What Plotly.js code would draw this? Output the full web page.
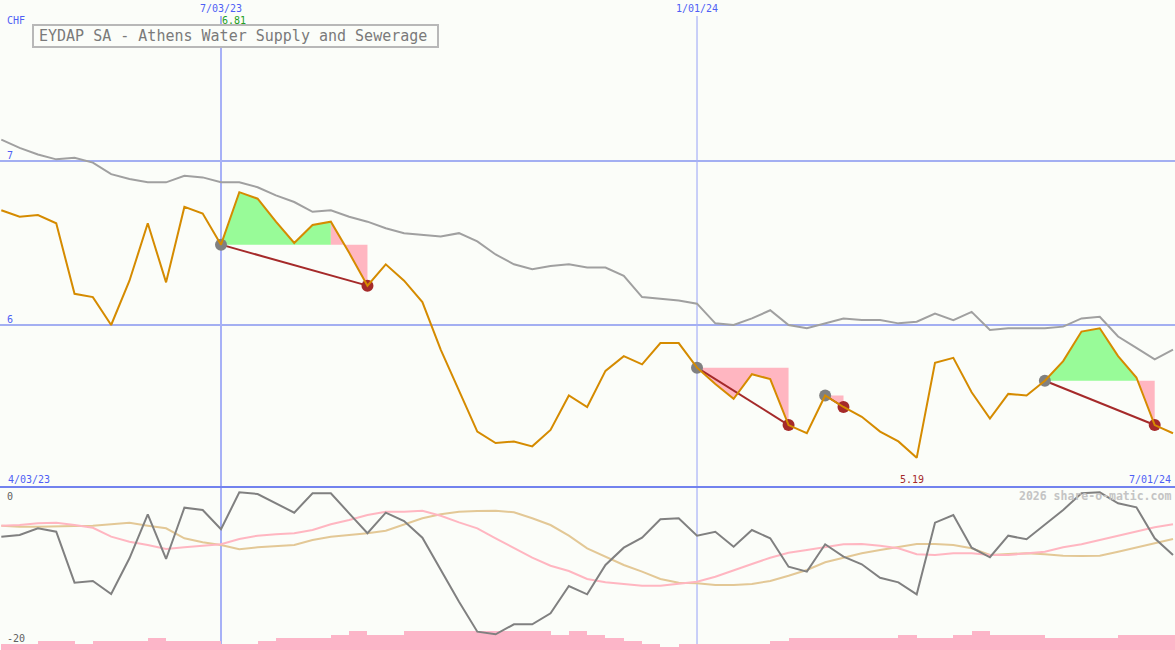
<!DOCTYPE html>
<html><head><meta charset="utf-8">
<script src="https://cdn.plot.ly/plotly-3.0.1.min.js"></script>
<style>html,body{margin:0;padding:0;background:#fbfdf9;overflow:hidden}</style>
</head><body><div id="chart" style="width:1175px;height:650px"></div>
<script>
// ---- data (weekly) ----
const dates = ['2023-04-10','2023-04-17','2023-04-24','2023-05-01','2023-05-08','2023-05-15','2023-05-22','2023-05-29','2023-06-05','2023-06-12','2023-06-19','2023-06-26',
 '2023-07-03','2023-07-10','2023-07-17','2023-07-24','2023-07-31','2023-08-07','2023-08-14','2023-08-21','2023-08-28','2023-09-04','2023-09-11','2023-09-18','2023-09-25','2023-10-02','2023-10-09','2023-10-16','2023-10-23','2023-10-30','2023-11-06','2023-11-13','2023-11-20','2023-11-27','2023-12-04','2023-12-11','2023-12-18','2023-12-25','2024-01-01',
 '2024-01-08','2024-01-15','2024-01-22','2024-01-29','2024-02-05','2024-02-12','2024-02-19','2024-02-26','2024-03-04','2024-03-11','2024-03-18','2024-03-25','2024-04-01','2024-04-08','2024-04-15','2024-04-22','2024-04-29','2024-05-06','2024-05-13','2024-05-20','2024-05-27','2024-06-03','2024-06-10','2024-06-17','2024-06-24','2024-07-01'];
const price = [6.70,6.66,6.67,6.62,6.19,6.17,6.00,6.27,6.62,6.26,6.72,6.68,
 6.49,6.81,6.77,6.63,6.50,6.61,6.63,6.44,6.24,6.37,6.27,6.14,5.85,5.60,5.35,5.28,5.29,5.26,5.36,5.57,5.50,5.72,5.81,5.76,5.89,5.89,5.74,
 5.64,5.55,5.70,5.67,5.39,5.34,5.57,5.50,5.44,5.35,5.29,5.19,5.77,5.80,5.59,5.43,5.58,5.57,5.66,5.78,5.96,5.98,5.81,5.68,5.39,5.34];
const average = [7.13,7.08,7.04,7.01,7.02,6.99,6.92,6.89,6.87,6.87,6.91,6.90,
 6.87,6.87,6.84,6.79,6.75,6.69,6.70,6.66,6.63,6.59,6.56,6.55,6.54,6.56,6.51,6.43,6.37,6.34,6.36,6.37,6.35,6.35,6.30,6.17,6.16,6.15,6.13,
 6.01,6.00,6.04,6.09,6.00,5.98,6.01,6.04,6.03,6.03,6.01,6.02,6.07,6.03,6.08,5.97,5.98,5.98,5.98,5.99,6.04,6.05,5.93,5.86,5.79,5.85];
const oscillator = [-6.25,-6.01,-5.07,-5.55,-12.73,-12.49,-14.32,-9.30,-3.10,-9.39,-2.17,-2.49,
 -5.21,0,-0.24,-1.55,-2.87,-0.14,-0.14,-2.96,-5.77,-2.87,-4.04,-6.39,-10.94,-15.41,-19.63,-20,-18.59,-18.59,-17.04,-13.20,-14.37,-10.24,-7.80,-6.39,-3.80,-3.66,-6.11,
 -5.55,-7.66,-5.31,-6.48,-10.48,-11.18,-7.32,-9.07,-10.14,-12.03,-12.68,-14.37,-4.28,-3.20,-7.80,-9.15,-6.11,-6.62,-4.61,-2.49,-0.14,0,-1.55,-2.11,-6.48,-8.83];
const oscFast = [-4.70,-4.61,-4.37,-4.28,-4.61,-4.99,-6.25,-6.96,-7.42,-7.99,-7.75,-7.52,
 -7.32,-6.58,-6.11,-5.92,-5.77,-5.31,-4.51,-3.90,-3.20,-2.73,-2.73,-2.59,-3.30,-4.23,-5.07,-6.48,-7.89,-9.21,-10.34,-11.08,-12.21,-12.68,-12.92,-13.15,-13.15,-12.92,-12.59,
 -11.89,-10.94,-10.10,-9.21,-8.51,-8.13,-7.70,-7.32,-7.28,-7.52,-7.89,-8.73,-8.83,-8.59,-8.59,-8.83,-8.83,-8.59,-8.37,-7.75,-7.32,-6.72,-6.11,-5.55,-4.93,-4.51];
const oscSlow = [-4.70,-4.85,-4.85,-4.75,-4.75,-4.70,-4.51,-4.28,-4.70,-5.07,-6.48,-7.04,
 -7.42,-8.03,-7.75,-7.56,-7.42,-6.72,-6.25,-6.01,-5.77,-5.41,-4.51,-3.66,-3.10,-2.73,-2.63,-2.59,-2.82,-3.66,-4.61,-6.11,-7.89,-9.07,-10.24,-11.18,-12.21,-12.73,-12.82,
 -13.06,-13.06,-12.92,-12.49,-11.75,-10.94,-9.86,-9.21,-8.59,-8.13,-7.66,-7.28,-7.28,-7.42,-7.89,-8.83,-8.69,-8.59,-8.73,-8.93,-8.97,-8.93,-8.37,-7.80,-7.18,-6.58];
const volume = [57,57,90,90,57,90,90,90,123,90,90,90,
 57,57,90,123,123,123,150,190,150,150,190,190,190,190,190,190,190,190,150,190,150,120,90,60,30,60,60,
 60,60,60,90,120,120,120,120,120,120,150,120,120,150,190,150,150,150,120,120,120,120,150,150,150,150];
// signals: indices into the arrays
const sigStart = [12, 38, 45, 57];
const sigTurn  = [18, 38, 45, 62];
const sigEnd   = [20, 43, 46, 63];
// labels
const xTickVals = ['2023-07-03', '2024-01-01'];
const xTickText = ['7/03/23', '1/01/24'];
const yTickVals = [7, 6];
const oscTickVals = [0, -20];
const firstDateLabel = '4/03/23';
const lastDateLabel = '7/01/24';
const chartTitle = 'EYDAP SA - Athens Water Supply and Sewerage';
const currency = 'CHF';
const watermark = '2026 share-o-matic.com';

// ---- styling ----
const W = 1175, H = 650, SPLIT = 487;
const BG = '#fbfdf9';
const MONO = 'DejaVu Sans Mono, Liberation Mono, monospace';
const BLUE = '#4f5ff5';
const px = v => v / W, py = v => 1 - v / H;
const lowTop = (H - SPLIT) / H;

const traces = [];
function band(i0, i1, base, color) {
  const xs = dates.slice(i0, i1 + 1).concat([dates[i1], dates[i0]]);
  const ys = price.slice(i0, i1 + 1).concat([base, base]);
  return {x: xs, y: ys, type: 'scatter', mode: 'none', fill: 'toself', fillcolor: color, hoverinfo: 'skip', xaxis: 'x', yaxis: 'y'};
}
for (let s = 0; s < sigStart.length; s++) {
  const base = price[sigStart[s]];
  if (sigTurn[s] > sigStart[s]) traces.push(band(sigStart[s], sigTurn[s], base, '#98fb98'));
  if (sigEnd[s] > sigTurn[s]) traces.push(band(sigTurn[s], sigEnd[s], base, '#ffb6c1'));
}
traces.push({x: dates, y: average, type: 'scatter', mode: 'lines', line: {color: '#a0a0a0', width: 2}, xaxis: 'x', yaxis: 'y'});
for (let s = 0; s < sigStart.length; s++) {
  traces.push({x: [dates[sigStart[s]], dates[sigEnd[s]]], y: [price[sigStart[s]], price[sigEnd[s]]], type: 'scatter', mode: 'lines', line: {color: '#a52a2a', width: 2}, xaxis: 'x', yaxis: 'y'});
}
traces.push({x: sigStart.map(i => dates[i]), y: sigStart.map(i => price[i]), type: 'scatter', mode: 'markers', marker: {color: '#808080', size: 12}, xaxis: 'x', yaxis: 'y'});
traces.push({x: sigEnd.map(i => dates[i]), y: sigEnd.map(i => price[i]), type: 'scatter', mode: 'markers', marker: {color: '#a52a2a', size: 12}, xaxis: 'x', yaxis: 'y'});
traces.push({x: dates, y: price, type: 'scatter', mode: 'lines', line: {color: '#d58b00', width: 2}, xaxis: 'x', yaxis: 'y'});
// lower panel
traces.push({x: dates, y: volume, type: 'bar', width: 7 * 86400000, offset: 0, marker: {color: '#fcb5c8', line: {width: 0}}, xaxis: 'x', yaxis: 'y2'});
traces.push({x: dates, y: oscSlow, type: 'scatter', mode: 'lines', line: {color: '#e3c896', width: 2}, xaxis: 'x', yaxis: 'y3'});
traces.push({x: dates, y: oscFast, type: 'scatter', mode: 'lines', line: {color: '#ffb6c1', width: 2}, xaxis: 'x', yaxis: 'y3'});
traces.push({x: dates, y: oscillator, type: 'scatter', mode: 'lines', line: {color: '#808080', width: 2}, xaxis: 'x', yaxis: 'y3'});

const shapes = [];
yTickVals.forEach(v => shapes.push({type: 'line', xref: 'paper', x0: 0, x1: 1, yref: 'y', y0: v, y1: v, line: {color: '#a3aff2', width: 2}, layer: 'below'}));
xTickVals.forEach((d, i) => shapes.push({type: 'line', xref: 'x', x0: d, x1: d, yref: 'paper', y0: 0, y1: py(16), line: {color: '#a7b1f7', width: i === 0 ? 2 : 1.2}, layer: 'below'}));
shapes.push({type: 'line', xref: 'paper', x0: 0, x1: 1, yref: 'paper', y0: lowTop, y1: lowTop, line: {color: '#7282ee', width: 2}, layer: 'below'});
shapes.push({type: 'rect', xref: 'paper', yref: 'paper', x0: px(33), x1: px(438), y0: py(47), y1: py(25), line: {color: '#b8b8b8', width: 2}, fillcolor: BG, layer: 'above'});

const maxI = price.indexOf(Math.max(...price));
const minI = price.indexOf(Math.min(...price));
const f = (size, color, extra) => Object.assign({family: MONO, size: size, color: color}, extra || {});
const annotations = [];
xTickVals.forEach((d, i) => annotations.push({x: d, xref: 'x', y: py(8), yref: 'paper', text: xTickText[i], showarrow: false, xanchor: 'center', yanchor: 'middle', font: f(10, BLUE)}));
yTickVals.forEach(v => annotations.push({x: px(5), xref: 'paper', y: v, yref: 'y', text: String(v), showarrow: false, xanchor: 'left', yanchor: 'middle', yshift: 6, font: f(10, BLUE)}));
oscTickVals.forEach(v => annotations.push({x: px(5), xref: 'paper', y: v, yref: 'y3', text: String(v), showarrow: false, xanchor: 'left', yanchor: 'middle', yshift: -4, font: f(10, '#606060')}));
annotations.push({x: px(5), xref: 'paper', y: py(20), yref: 'paper', text: currency, showarrow: false, xanchor: 'left', yanchor: 'middle', font: f(10, BLUE)});
annotations.push({x: dates[maxI], xref: 'x', xshift: -5, y: py(20), yref: 'paper', text: price[maxI].toFixed(2), showarrow: false, xanchor: 'center', yanchor: 'middle', font: f(10, '#22a022')});
annotations.push({x: dates[minI], xref: 'x', xshift: -5, y: py(479), yref: 'paper', text: price[minI].toFixed(2), showarrow: false, xanchor: 'center', yanchor: 'middle', font: f(10, '#a52a2a')});
annotations.push({x: px(6), xref: 'paper', y: py(479), yref: 'paper', text: firstDateLabel, showarrow: false, xanchor: 'left', yanchor: 'middle', font: f(10, BLUE)});
annotations.push({x: px(1173), xref: 'paper', y: py(479), yref: 'paper', text: lastDateLabel, showarrow: false, xanchor: 'right', yanchor: 'middle', font: f(10, BLUE)});
annotations.push({x: px(1173), xref: 'paper', y: py(496), yref: 'paper', text: watermark, showarrow: false, xanchor: 'right', yanchor: 'middle', font: f(11.5, '#c4c4c4', {weight: 'bold'})});
annotations.push({x: px(37), xref: 'paper', y: py(36), yref: 'paper', text: chartTitle, showarrow: false, xanchor: 'left', yanchor: 'middle', font: f(15, '#7a7a7a')});

const layout = {
  width: W, height: H, margin: {l: 0, r: 0, t: 0, b: 0, pad: 0},
  paper_bgcolor: BG, plot_bgcolor: BG, showlegend: false, hovermode: false,
  xaxis: {type: 'date', range: ['2023-04-09 12:00', '2024-07-01 18:14'], visible: false, domain: [0, 1]},
  yaxis: {domain: [lowTop, 1], range: [5.0122, 7.9817], visible: false},
  yaxis2: {domain: [0, lowTop], range: [0, 1630], visible: false},
  yaxis3: {overlaying: 'y2', anchor: 'x', range: [-22.21, 0.746], visible: false},
  shapes: shapes, annotations: annotations, bargap: 0
};
Plotly.newPlot('chart', traces, layout, {displayModeBar: false, staticPlot: true});
</script></body></html>
